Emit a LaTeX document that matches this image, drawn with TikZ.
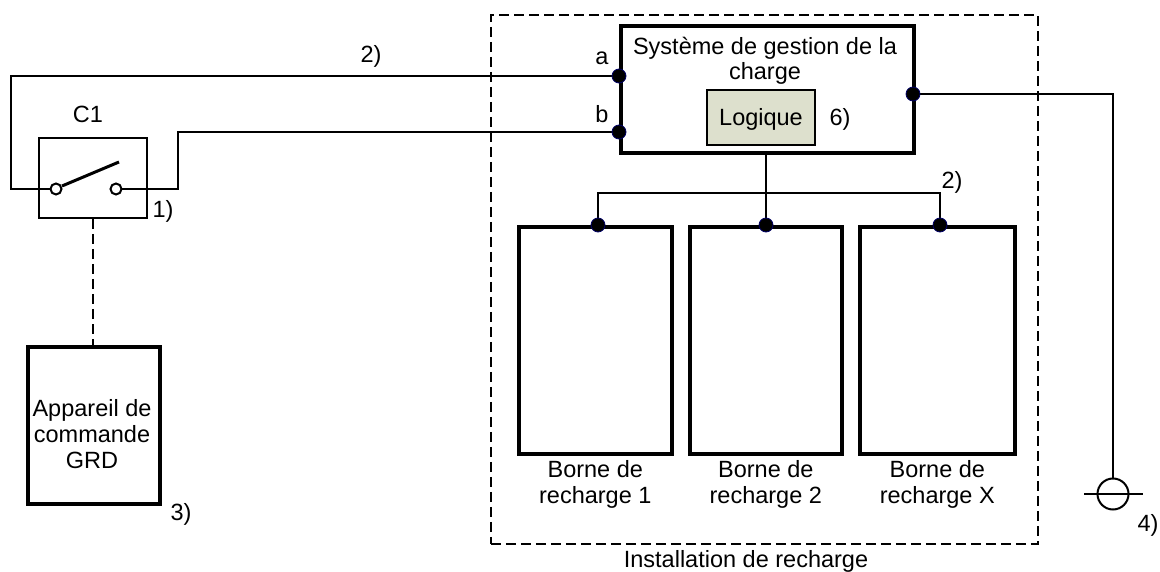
\documentclass[tikz,border=0pt]{standalone}
\usepackage{fontspec}
\setmainfont{Liberation Sans}
\begin{document}
\begin{tikzpicture}[x=1pt,y=-1pt,
  wire/.style={line width=2pt},
  bx/.style={draw, line width=3.6pt, inner sep=0pt, anchor=north west},
  lbl/.style={font=\fontsize{23.5}{26}\selectfont, inner sep=0pt, anchor=base},
  ml/.style={font=\fontsize{23.5}{26}\selectfont, inner sep=0pt, align=center},
  dot/.style={circle, fill=black, draw=black!60!blue, line width=0.8pt, inner sep=0pt, minimum size=14pt},
  sw/.style={circle, draw, line width=2pt, fill=white, inner sep=0pt, minimum size=11pt},
  dsh/.style={line width=1.8pt, dash pattern=on 10pt off 5pt}]
\definecolor{logic}{RGB}{221,224,205}
\useasboundingbox (0,0) rectangle (1160,572);
% installation dashed frame
\node[dsh, draw, inner sep=0pt, anchor=north west, minimum width=547pt, minimum height=529pt] (inst) at (490,14) {};
\node[lbl] (instl) at (746,567) {Installation de recharge};
% management system
\node[bx, minimum width=293pt, minimum height=127pt] (mgr) at (619,24) {};
\node[lbl] (t1) at (765,55) {Système de gestion de la};
\node[lbl] (t2) at (765,80) {charge};
\node[draw, line width=2pt, fill=logic, minimum width=108pt, minimum height=55pt, inner sep=0pt, anchor=north west] (logic) at (706,89) {};
\node[lbl] at (logic.center) [yshift=-8pt] (logt) {Logique};
\node[lbl] (six) at (840,126) {6)};
% switch C1
\node[draw, line width=2pt, inner sep=0pt, anchor=north west, minimum width=108pt, minimum height=80pt] (swb) at (38,137) {};
\node[lbl] (c1) at (88,123) {C1};
\node[lbl] (one) at (163,218) {1)};
% GRD box
\node[bx, minimum width=132pt, minimum height=157pt] (grd) at (26,345) {};
\node[ml] (grdt) at (92,434) {Appareil de\\commande\\GRD};
\node[lbl] (three) at (181,520) {3)};
% charging stations
\node[bx, minimum width=153pt, minimum height=227pt] (b1) at (517,225) {};
\node[bx, minimum width=152pt, minimum height=227pt] (b2) at (688,225) {};
\node[bx, minimum width=155pt, minimum height=227pt] (b3) at (858,225) {};
\node[ml, anchor=north] (b1t) at (b1.south) [yshift=-5pt] {Borne de\\recharge 1};
\node[ml, anchor=north] (b2t) at (b2.south) [yshift=-5pt] {Borne de\\recharge 2};
\node[ml, anchor=north] (b3t) at (b3.south) [yshift=-5pt] {Borne de\\recharge X};
% labels
\node[lbl] (two1) at (371,63) {2)};
\node[lbl] (la) at (602,65) {a};
\node[lbl] (lb) at (602,123) {b};
\node[lbl] (two2) at (952,189) {2)};
\node[lbl] (four) at (1148,531) {4)};
% connection points
\coordinate (pa) at (619,76);
\coordinate (pb) at (619,132);
\coordinate (pr) at (913,94);
\coordinate (d1) at (598,225);
\coordinate (d2) at (766,225);
\coordinate (d3) at (940,225);
\coordinate (mb) at (766,151);
% wires
\draw[wire] (pa) -- (11,76) -- (11,189) -- (56,189);
\draw[wire] (116,189) -- (178,189) -- (178,132) -- (pb);
\draw[wire] (pr) -| (1113,479);
\draw[wire] (mb) -- (d2);
\draw[wire] (d1) -- (598,193) -- (940,193) -- (d3);
\draw[dsh] (swb.south -| 93,0) -- (grd.north -| 93,0);
% switch contacts
\node[sw] (cl) at (56,189) {};
\node[sw] (cr) at (116,189) {};
\draw[line width=3pt] (62,186) -- (119,162);
% earth / meter symbol
\node[circle, draw, line width=2pt, inner sep=0pt, minimum size=31pt] (gnd) at (1113,494) {};
\draw[wire] (1084,494) -- (1143,494);
% dots
\foreach \p in {pa,pb,pr,d1,d2,d3} \node[dot] at (\p) {};
\end{tikzpicture}
\end{document}
